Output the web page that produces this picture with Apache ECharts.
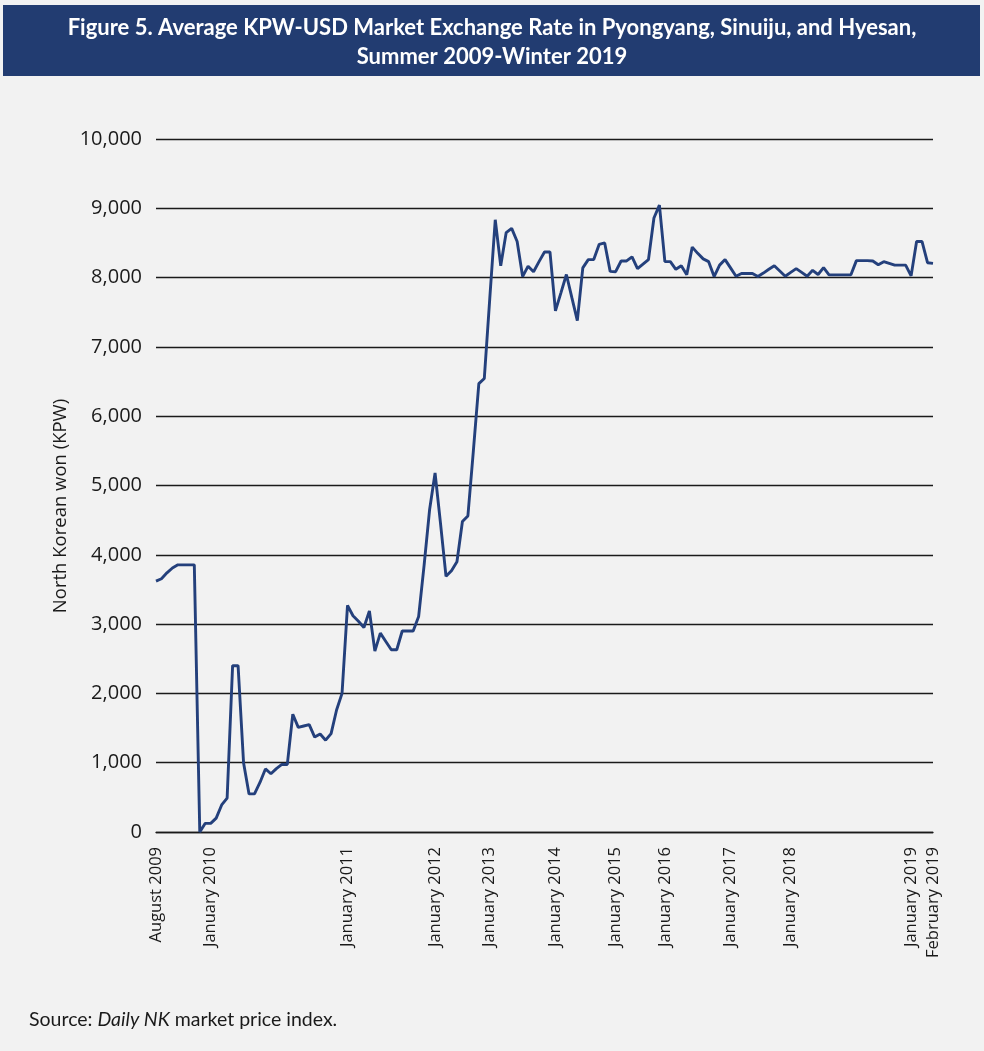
<!DOCTYPE html>
<html>
<head>
<meta charset="utf-8">
<script src="https://cdn.jsdelivr.net/npm/echarts@6/dist/echarts.min.js"></script>
<style>
html,body{margin:0;padding:0;background:#f2f2f2;}
#chart{width:984px;height:1051px;}
</style>
</head>
<body>
<div id="chart"></div>
<script>
const titleLines = [
  "Figure 5. Average KPW-USD Market Exchange Rate in Pyongyang, Sinuiju, and Hyesan,",
  "Summer 2009-Winter 2019"
];
const yAxisName = "North Korean won (KPW)";
const sourceLabel = "Source: ";
const sourceItalic = "Daily NK";
const sourceRest = " market price index.";

const tickLabels = ["August 2009","January 2010","January 2011","January 2012","January 2013","January 2014","January 2015","January 2016","January 2017","January 2018","January 2019","February 2019"];
const tickIndex = [0,10,35,51,61,73,84,93,105,116,138,142];

const rateValues = [
  3620,3655,3740,3810,3855,3855,3855,3855,0,125,
  125,200,390,490,2400,2400,1000,550,550,715,
  910,840,915,975,975,1700,1510,1530,1550,1370,
  1415,1325,1420,1760,2000,3270,3120,3040,2950,3190,
  2610,2870,2750,2630,2630,2900,2900,2900,3110,3850,
  4650,5180,4450,3690,3770,3900,4480,4560,5500,6470,
  6545,7700,8835,8170,8650,8710,8520,8015,8165,8085,
  8230,8370,8370,7520,7780,8045,7710,7380,8140,8260,
  8260,8480,8500,8090,8085,8240,8240,8300,8130,8195,
  8260,8860,9045,8230,8230,8120,8170,8040,8440,8350,
  8270,8230,8015,8180,8260,8140,8020,8060,8060,8060,
  8015,8065,8120,8170,8095,8020,8075,8130,8075,8020,
  8105,8045,8145,8040,8040,8040,8040,8040,8245,8245,
  8245,8240,8185,8230,8205,8180,8180,8180,8025,8520,
  8520,8215,8205
];

const categories = rateValues.map((v, i) => {
  const k = tickIndex.indexOf(i);
  return k >= 0 ? tickLabels[k] : String(i);
});

const chart = echarts.init(document.getElementById('chart'), null, {renderer: 'canvas'});
chart.setOption({
  backgroundColor: '#f2f2f2',
  animation: false,
  grid: {left: 156, right: 51, top: 139, bottom: 219, containLabel: false},
  xAxis: {
    type: 'category',
    data: categories,
    boundaryGap: false,
    axisLine: {show: true, lineStyle: {color: '#1a1a1a', width: 1.3}},
    axisTick: {show: false},
    splitLine: {show: false},
    axisLabel: {
      interval: (i) => tickIndex.indexOf(i) >= 0,
      rotate: 90,
      margin: 15,
      color: '#1a1a1a',
      fontFamily: 'Open Sans',
      fontSize: 16.5
    }
  },
  yAxis: {
    type: 'value',
    min: 0, max: 10000, interval: 1000,
    axisLine: {show: false},
    axisTick: {show: false},
    splitLine: {show: true, lineStyle: {color: '#1a1a1a', width: 1.3}},
    axisLabel: {
      margin: 14,
      color: '#1a1a1a',
      fontFamily: 'Open Sans',
      fontSize: 20,
      formatter: (v) => v.toLocaleString('en-US')
    }
  },
  series: [{
    type: 'line',
    data: rateValues,
    symbol: 'none',
    lineStyle: {color: '#24407c', width: 2.9},
    itemStyle: {color: '#24407c'}
  }],
  graphic: [
    {type: 'rect', shape: {x: 3, y: 5, width: 977, height: 71}, style: {fill: '#223c71'}, z: 0},
    {type: 'text', x: 492, y: 28, style: {text: titleLines[0], fill: '#ffffff', font: 'bold 22px Lato', textAlign: 'center', textVerticalAlign: 'middle'}},
    {type: 'text', x: 492, y: 57, style: {text: titleLines[1], fill: '#ffffff', font: 'bold 22px Lato', textAlign: 'center', textVerticalAlign: 'middle'}},
    {type: 'text', x: 61, y: 506, rotation: Math.PI / 2, style: {text: yAxisName, fill: '#1a1a1a', font: '18.5px "Open Sans"', textAlign: 'center', textVerticalAlign: 'middle'}},
    {type: 'text', x: 29, y: 1020, style: {
      text: '{n|' + sourceLabel + '}{i|' + sourceItalic + '}{n|' + sourceRest + '}',
      rich: {
        n: {font: '19.5px Lato', fill: '#1a1a1a'},
        i: {font: 'italic 19.5px Lato', fill: '#1a1a1a'}
      },
      textVerticalAlign: 'middle'
    }}
  ]
});
</script>
</body>
</html>
